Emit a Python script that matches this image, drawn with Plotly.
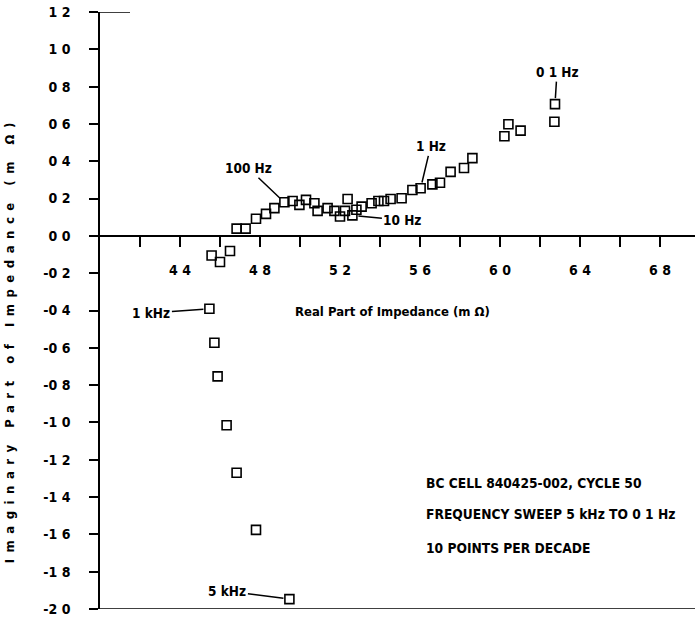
import plotly.graph_objects as go

# ---------------- data ----------------
re_z = [4.947, 4.780, 4.683, 4.633, 4.588, 4.572, 4.547, 4.558, 4.600, 4.650,
        4.683, 4.728, 4.780, 4.830, 4.872, 4.922, 4.963, 4.997, 5.030, 5.072,
        5.088, 5.138, 5.172, 5.200, 5.225, 5.238, 5.262, 5.282, 5.308, 5.358,
        5.392, 5.420, 5.453, 5.508, 5.562, 5.603, 5.662, 5.700, 5.753, 5.820,
        5.862, 6.022, 6.042, 6.103, 6.272, 6.275]
im_z = [-1.947, -1.576, -1.270, -1.015, -0.753, -0.573, -0.391, -0.105, -0.140, -0.081,
        0.039, 0.039, 0.092, 0.118, 0.149, 0.180, 0.187, 0.166, 0.193, 0.175,
        0.134, 0.149, 0.134, 0.104, 0.134, 0.198, 0.110, 0.140, 0.157, 0.175,
        0.187, 0.187, 0.198, 0.202, 0.246, 0.255, 0.276, 0.285, 0.343, 0.364,
        0.417, 0.534, 0.598, 0.564, 0.612, 0.706]

x_tick_vals = [4.2, 4.4, 4.6, 4.8, 5.0, 5.2, 5.4, 5.6, 5.8, 6.0, 6.2, 6.4, 6.6, 6.8]
x_tick_text = ["", "4 4", "", "4 8", "", "5 2", "", "5 6", "", "6 0", "", "6 4", "", "6 8"]
y_tick_vals = [-2.0, -1.8, -1.6, -1.4, -1.2, -1.0, -0.8, -0.6, -0.4, -0.2,
               0.0, 0.2, 0.4, 0.6, 0.8, 1.0, 1.2]
y_tick_text = ["-2 0", "-1 8", "-1 6", "-1 4", "-1 2", "-1 0", "-0 8", "-0 6", "-0 4", "-0 2",
               "0 0", "0 2", "0 4", "0 6", "0 8", "1 0", "1 2"]

freq_labels = ["5 kHz", "1 kHz", "100 Hz", "10 Hz", "1 Hz", "0 1 Hz"]
freq_re = [4.947, 4.547, 4.922, 5.262, 5.603, 6.275]
freq_im = [-1.947, -0.391, 0.180, 0.110, 0.255, 0.706]

note_lines = ["BC CELL 840425-002, CYCLE 50",
              "FREQUENCY SWEEP 5 kHz TO 0 1 Hz",
              "10 POINTS PER DECADE"]

X_TITLE = "Real Part of Impedance (m Ω)"
Y_TITLE = "Imaginary Part of Impedance (m Ω)"

X_RANGE = [4.0, 6.975]
Y_RANGE = [-2.0, 1.2]

# ---------------- layout constants ----------------
W, H = 695, 618
ML, MR, MT, MB = 100, 0, 12, 9
PW, PH = W - ML - MR, H - MT - MB
FONT = "Liberation Sans Narrow, Arial Narrow, DejaVu Sans Condensed, sans-serif"


def px_to_paper_x(px):
    return (px - ML) / PW


def px_to_paper_y(py):
    return (H - MB - py) / PH


fig = go.Figure()
fig.add_trace(go.Scatter(
    x=re_z, y=im_z, mode="markers",
    marker=dict(symbol="square-open", size=9, color="black",
                line=dict(color="black", width=1.6)),
    showlegend=False, hoverinfo="skip"))

zero_pos = (0 - Y_RANGE[0]) / (Y_RANGE[1] - Y_RANGE[0])

fig.update_xaxes(
    range=X_RANGE, anchor="free", position=zero_pos,
    showgrid=False, zeroline=False, showline=True, linecolor="black", linewidth=1.5,
    tickmode="array", tickvals=x_tick_vals, ticktext=x_tick_text,
    ticks="outside", ticklen=10, tickwidth=1.5, tickcolor="black",
    ticklabelstandoff=12,
    tickfont=dict(family=FONT, size=14, color="black", weight="bold"),
    automargin=False)
fig.update_yaxes(
    range=Y_RANGE, showgrid=False, zeroline=False, showline=True,
    linecolor="black", linewidth=1.5,
    tickmode="array", tickvals=y_tick_vals, ticktext=y_tick_text,
    ticks="outside", ticklen=9, tickwidth=1.5, tickcolor="black",
    ticklabelstandoff=16, ticklabeloverflow="allow",
    tickfont=dict(family=FONT, size=14, color="black", weight="bold"),
    automargin=False)

# frame lines at the top and bottom of the y scale
fig.add_shape(type="line", xref="paper", yref="y", x0=-9 / PW, x1=1,
              y0=Y_RANGE[0], y1=Y_RANGE[0], line=dict(color="black", width=1.5))
fig.add_shape(type="line", xref="paper", yref="y", x0=-9 / PW, x1=30 / PW,
              y0=Y_RANGE[1], y1=Y_RANGE[1], line=dict(color="black", width=1.5))

# frequency labels with leader lines
offsets = [(-62, -8), (-58, 4), (-36, -34), (50, 5), (10, -42), (2, -32)]
for t, xv, yv, (ax, ay) in zip(freq_labels, freq_re, freq_im, offsets):
    fig.add_annotation(x=xv, y=yv, text=t, showarrow=True, arrowhead=0,
                       arrowwidth=1.5, arrowcolor="black", standoff=6,
                       ax=ax, ay=ay,
                       font=dict(family=FONT, size=13.5, color="black", weight="bold"))

# axis titles
fig.add_annotation(xref="paper", yref="paper", x=px_to_paper_x(392), y=px_to_paper_y(311),
                   text=X_TITLE, showarrow=False, xanchor="center", yanchor="middle",
                   font=dict(family=FONT, size=13, color="black", weight="bold"))
fig.add_annotation(xref="paper", yref="paper", x=px_to_paper_x(9), y=px_to_paper_y(340),
                   text=Y_TITLE, showarrow=False, textangle=-90,
                   xanchor="center", yanchor="middle",
                   font=dict(family=FONT, size=13, color="black", weight="bold"))

# note block
for line, py in zip(note_lines, [483, 514, 548]):
    fig.add_annotation(xref="paper", yref="paper", x=px_to_paper_x(424), y=px_to_paper_y(py),
                       text=line, showarrow=False, xanchor="left", yanchor="middle",
                       font=dict(family=FONT, size=13.7, color="black", weight="bold"))

fig.update_layout(
    width=W, height=H,
    margin=dict(l=ML, r=MR, t=MT, b=MB, pad=0),
    paper_bgcolor="white", plot_bgcolor="white",
    font=dict(family=FONT, color="black"))

# widely letter-spaced y title, as in the reference
post = """
document.querySelectorAll('text.annotation-text').forEach(function(t){
  if (t.textContent.indexOf('Imaginary') === 0) { t.style.letterSpacing = '6.5px'; }
});
"""

fig.write_html("out.html", post_script=post)
